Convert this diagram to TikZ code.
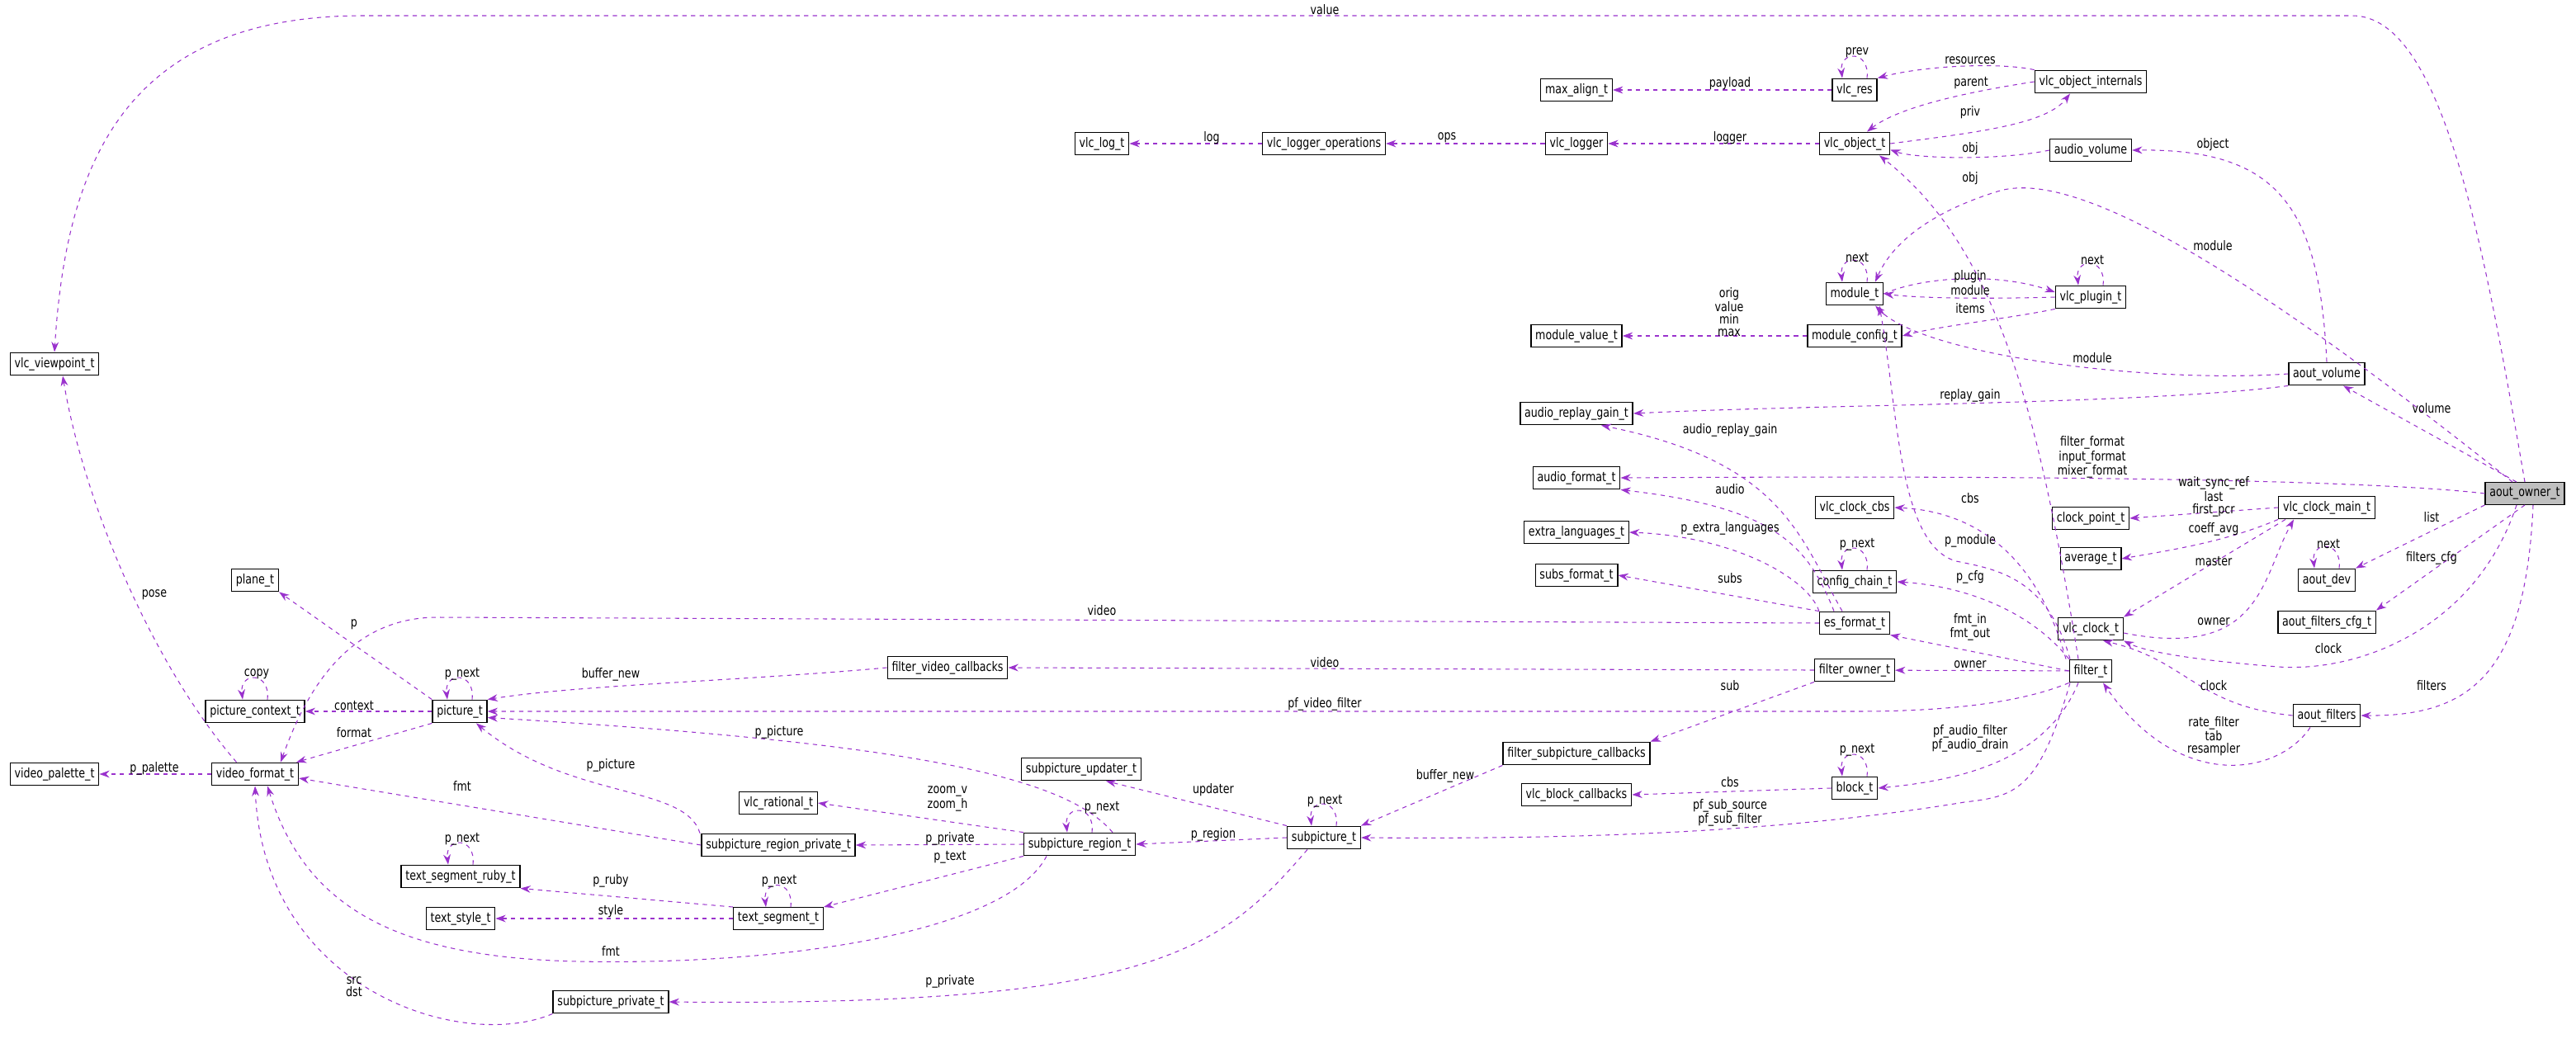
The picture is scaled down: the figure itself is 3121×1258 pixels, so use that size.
\documentclass[tikz,border=0pt]{standalone}
\usepackage{fontspec}
\setmainfont[FakeStretch=0.8]{DejaVu Sans}
\usetikzlibrary{arrows.meta}
\definecolor{deporchid}{RGB}{154,50,205}
\tikzset{
  cls/.style={draw=black, fill=white, line width=0.8pt, inner xsep=3pt, minimum height=0.52cm, font=\fontsize{9}{9}\selectfont},
  root/.style={cls, fill=black!25},
  dep/.style={draw=deporchid, dashed, semithick, -{Stealth[length=7pt,width=5pt]}},
  lbl/.style={font=\fontsize{9}{8.5}\selectfont, align=center, inner sep=0pt},
}
\newcommand\selfloop[1]{\draw[dep] ([xshift=0.3cm]#1.north) .. controls +(4,-34) and +(-4,-34) .. ([xshift=-0.3cm]#1.north);}
\begin{document}
\begin{tikzpicture}[x={(0.02cm,0)}, y={(0,-0.02cm)}]
    \useasboundingbox (0,0) rectangle (3121,1258);

    % Classes
    \node[root] (owner) at (3059,598) {aout\_owner\_t};
    \node[cls] (vp) at (66,441) {vlc\_viewpoint\_t};
    \node[cls] (plane) at (309,703) {plane\_t};
    \node[cls] (pctx) at (309,862) {picture\_context\_t};
    \node[cls] (pic) at (557,862) {picture\_t};
    \node[cls] (fvc) at (1148,809) {filter\_video\_callbacks};
    \node[cls] (vpal) at (66,938) {video\_palette\_t};
    \node[cls] (vfmt) at (309,938) {video\_format\_t};
    \node[cls] (spupd) at (1310,932) {subpicture\_updater\_t};
    \node[cls] (vrat) at (943,973) {vlc\_rational\_t};
    \node[cls] (srpriv) at (943,1024) {subpicture\_region\_private\_t};
    \node[cls] (sreg) at (1308,1023) {subpicture\_region\_t};
    \node[cls] (tsruby) at (558,1062) {text\_segment\_ruby\_t};
    \node[cls] (tstyle) at (558,1113) {text\_style\_t};
    \node[cls] (tseg) at (943,1113) {text\_segment\_t};
    \node[cls] (sppriv) at (740,1214) {subpicture\_private\_t};
    \node[cls] (maxal) at (1910,109) {max\_align\_t};
    \node[cls] (vres) at (2247,109) {vlc\_res};
    \node[cls] (voint) at (2533,99) {vlc\_object\_internals};
    \node[cls] (vlog) at (1335,174) {vlc\_log\_t};
    \node[cls] (vlogops) at (1604,174) {vlc\_logger\_operations};
    \node[cls] (vlogger) at (1910,174) {vlc\_logger};
    \node[cls] (vobj) at (2247,174) {vlc\_object\_t};
    \node[cls] (audvol) at (2533,182) {audio\_volume};
    \node[cls] (mod) at (2247,356) {module\_t};
    \node[cls] (vplug) at (2533,360) {vlc\_plugin\_t};
    \node[cls] (modval) at (1910,407) {module\_value\_t};
    \node[cls] (modcfg) at (2247,407) {module\_config\_t};
    \node[cls] (avol) at (2819,453) {aout\_volume};
    \node[cls] (arg) at (1910,501) {audio\_replay\_gain\_t};
    \node[cls] (afmt) at (1910,579) {audio\_format\_t};
    \node[cls] (vccbs) at (2247,615) {vlc\_clock\_cbs};
    \node[cls] (cpt) at (2533,628) {clock\_point\_t};
    \node[cls] (cmain) at (2819,615) {vlc\_clock\_main\_t};
    \node[cls] (extl) at (1910,645) {extra\_languages\_t};
    \node[cls] (subsf) at (1910,697) {subs\_format\_t};
    \node[cls] (cchain) at (2247,705) {config\_chain\_t};
    \node[cls] (avg) at (2533,677) {average\_t};
    \node[cls] (adev) at (2819,703) {aout\_dev};
    \node[cls] (es) at (2247,755) {es\_format\_t};
    \node[cls] (vclock) at (2533,762) {vlc\_clock\_t};
    \node[cls] (afcfg) at (2819,754) {aout\_filters\_cfg\_t};
    \node[cls] (fowner) at (2247,812) {filter\_owner\_t};
    \node[cls] (filt) at (2533,813) {filter\_t};
    \node[cls] (afilt) at (2819,867) {aout\_filters};
    \node[cls] (fspc) at (1910,913) {filter\_subpicture\_callbacks};
    \node[cls] (vbcb) at (1910,963) {vlc\_block\_callbacks};
    \node[cls] (block) at (2247,955) {block\_t};
    \node[cls] (subpic) at (1604,1015) {subpicture\_t};

    % Top: object and logger
    \draw[dep] (owner.north) .. controls (3010,300) and (2960,19) .. (2850,19) -- (440,19) .. controls (150,19) and (80,200) .. (vp.north);
    \draw[dep] (vres) -- (maxal);
    \selfloop{vres}
    \draw[dep] (voint.north west) .. controls (2420,75) and (2330,80) .. (vres.north east);
    \draw[dep] (voint.west) .. controls (2380,112) and (2300,130) .. ([xshift=0.3cm]vobj.north);
    \draw[dep] (vobj.east) .. controls (2400,160) and (2480,150) .. ([xshift=-0.5cm]voint.south);
    \draw[dep] (vlogops) -- (vlog);
    \draw[dep] (vlogger) -- (vlogops);
    \draw[dep] (vobj) -- (vlogger);
    \draw[dep] (audvol.west) .. controls (2420,195) and (2320,192) .. ([yshift=-0.15cm]vobj.east);
    \draw[dep] ([xshift=-0.3cm]filt.north) .. controls (2470,500) and (2420,300) .. ([xshift=0.6cm]vobj.south);
    \draw[dep] (avol.north) .. controls (2810,250) and (2760,180) .. (audvol.east);

    % Modules
    \draw[dep] ([xshift=-0.3cm]owner.north) .. controls (2750,350) and (2520,200) .. (2420,232) .. controls (2330,260) and (2290,300) .. ([xshift=0.5cm]mod.north);
    \selfloop{mod}
    \selfloop{vplug}
    \draw[dep] (mod.east) .. controls (2330,335) and (2420,330) .. ([yshift=0.12cm]vplug.west);
    \draw[dep] (vplug.west) .. controls (2420,362) and (2330,362) .. (mod.east);
    \draw[dep] (vplug.south west) .. controls (2440,385) and (2350,395) .. (modcfg.east);
    \draw[dep] (modcfg) -- (modval);
    \draw[dep] (avol.west) .. controls (2600,465) and (2330,430) .. ([xshift=0.5cm]mod.south);
    \draw[dep] ([xshift=-0.5cm]filt.north) .. controls (2480,700) and (2420,690) .. (2370,680) .. controls (2300,660) and (2300,500) .. ([xshift=0.6cm]mod.south);
    \draw[dep] (avol.south west) .. controls (2600,490) and (2200,490) .. (arg.east);
    \draw[dep] ([xshift=-0.2cm]owner.north) -- ([xshift=0.4cm]avol.south);

    % Audio and clocks
    \draw[dep] ([xshift=-0.3cm]es.north) .. controls (2180,650) and (2160,560) .. ([xshift=0.6cm]arg.south);
    \draw[dep] (owner.west) .. controls (2900,585) and (2600,575) .. (afmt.east);
    \draw[dep] ([xshift=-0.5cm]es.north) .. controls (2190,660) and (2150,615) .. (afmt.south east);
    \draw[dep] ([xshift=-0.6cm]filt.north) .. controls (2470,680) and (2400,620) .. (vccbs.east);
    \draw[dep] (cmain.west) -- (cpt.east);
    \draw[dep] (cmain.south west) .. controls (2700,655) and (2640,665) .. (avg.east);
    \draw[dep] (owner.south west) -- (adev.north east);
    \selfloop{adev}
    \draw[dep] (owner.south) -- (afcfg.north east);
    \draw[dep] ([xshift=-0.2cm]owner.south) .. controls (3000,760) and (2860,815) .. (2760,808) .. controls (2660,800) and (2600,790) .. (vclock.south east);
    \draw[dep] ([xshift=0.2cm]owner.south) .. controls (3060,820) and (2990,868) .. (afilt.east);
    \draw[dep] ([xshift=-1cm]cmain.south) -- (vclock.north east);
    \draw[dep] ([yshift=-0.1cm]vclock.east) .. controls (2740,800) and (2740,700) .. ([xshift=-0.8cm]cmain.south);
    \draw[dep] (afilt.west) .. controls (2660,855) and (2650,800) .. ([xshift=0.3cm]vclock.south);
    \draw[dep] ([xshift=-0.4cm]afilt.south) .. controls (2760,940) and (2640,960) .. ([xshift=0.3cm]filt.south);

    % Formats and filters
    \draw[dep] (es.north west) .. controls (2190,700) and (2100,650) .. (extl.east);
    \draw[dep] (es.north west) -- (subsf.east);
    \selfloop{cchain}
    \draw[dep] (filt.north west) .. controls (2460,740) and (2380,710) .. (cchain.east);
    \draw[dep] (filt.west) -- (es.south east);
    \draw[dep] (es.west) -- (530,748) .. controls (420,748) and (370,840) .. ([xshift=0.62cm]vfmt.north);
    \draw[dep] (filt) -- (fowner);
    \draw[dep] (fowner.west) -- (fvc.east);
    \draw[dep] (fowner.south west) -- (fspc.north east);
    \draw[dep] (filt.south west) .. controls (2440,855) and (2340,862) .. (2250,862) -- (pic.east);
    \draw[dep] ([xshift=-0.3cm]filt.south) .. controls (2480,920) and (2380,945) .. (block.east);
    \selfloop{block}
    \draw[dep] (block.west) -- (vbcb.east);
    \draw[dep] ([xshift=-0.5cm]filt.south) .. controls (2470,960) and (2440,965) .. (2380,972) .. controls (2150,1010) and (1900,1017) .. (subpic.east);

    % Subpictures
    \draw[dep] (fspc.south west) -- (subpic.north east);
    \draw[dep] (subpic.north west) -- ([xshift=0.6cm]spupd.south);
    \selfloop{subpic}
    \draw[dep] (subpic.west) -- (sreg.east);
    \draw[dep] ([xshift=-0.4cm]subpic.south) .. controls (1480,1150) and (1400,1220) .. (sppriv.east);
    \selfloop{sreg}
    \draw[dep] (sreg.north west) -- (vrat.east);
    \draw[dep] (sreg.west) -- (srpriv.east);
    \draw[dep] (sreg.south west) -- (tseg.north east);
    \draw[dep] ([xshift=0.8cm]sreg.north) .. controls (1290,940) and (1100,900) .. ([yshift=-0.15cm]pic.east);
    \draw[dep] ([xshift=-0.8cm]sreg.south) .. controls (1220,1130) and (950,1170) .. (700,1165) .. controls (480,1160) and (370,1100) .. ([xshift=0.3cm]vfmt.south);
    \draw[dep] ([xshift=-1.9cm]srpriv.north) .. controls (830,950) and (690,970) .. ([xshift=0.4cm]pic.south);
    \draw[dep] (srpriv.west) -- ([yshift=-0.1cm]vfmt.east);
    \draw[dep] (tseg.north west) -- (tsruby.south east);
    \selfloop{tseg}
    \selfloop{tsruby}
    \draw[dep] (tseg) -- (tstyle);
    \draw[dep] (sppriv.south west) .. controls (560,1275) and (320,1200) .. (vfmt.south);

    % Pictures and video formats
    \draw[dep] (fvc.west) .. controls (900,825) and (700,830) .. (pic.north east);
    \draw[dep] (pic) -- (pctx);
    \selfloop{pctx}
    \draw[dep] (pic.north west) -- (plane.south east);
    \selfloop{pic}
    \draw[dep] (pic.south west) -- ([xshift=1cm]vfmt.north);
    \draw[dep] (vfmt) -- (vpal);
    \draw[dep] ([xshift=-0.45cm]vfmt.north) .. controls (180,800) and (100,600) .. ([xshift=0.2cm]vp.south);

    % Labels
    \foreach \x/\y/\t [count=\i] in {
        1605/12/value, 2250/64/prev, 2387/73/resources, 2096/101/payload,
        2388/101/parent, 2387/136/priv, 1468/167/log, 1753/167/ops,
        2096/167/logger, 2387/180/obj, 2681/175/object, 2387/216/obj,
        2681/298/module, 2250/312/next, 2535/315/next, 2387/335/plugin,
        2387/352/module, 2387/374/items, 2095/378/{orig\\value\\min\\max},
        2535/434/module, 2387/479/replay\_gain, 2946/495/volume,
        2096/521/audio\_replay\_gain, 2535/554/{filter\_format\\input\_format\\mixer\_format},
        2096/593/audio, 2682/602/{wait\_sync\_ref\\last\\first\_pcr}, 2387/604/cbs,
        2946/627/list, 2682/641/coeff\_avg, 2096/640/p\_extra\_languages,
        2387/655/p\_module, 2250/660/p\_next, 2682/680/master, 2821/659/next,
        2946/676/filters\_cfg, 2096/701/subs, 2387/699/p\_cfg,
        2387/760/{fmt\_in\\fmt\_out}, 2682/753/owner, 2821/786/clock,
        1335/740/video, 1605/803/video, 2387/805/owner, 2096/831/sub,
        2682/831/clock, 2946/831/filters, 1605/853/pf\_video\_filter,
        2682/892/{rate\_filter\\tab\\resampler}, 2387/895/{pf\_audio\_filter\\pf\_audio\_drain},
        2250/909/p\_next, 1751/940/buffer\_new, 2096/948/cbs, 1470/957/updater,
        1605/971/p\_next, 2096/985/{pf\_sub\_source\\pf\_sub\_filter}, 1470/1011/p\_region,
        1335/979/p\_next, 187/721/pose, 429/757/p, 311/817/copy, 560/817/p\_next,
        740/817/buffer\_new, 429/855/context, 429/888/format, 944/887/p\_picture,
        187/931/p\_palette, 740/927/p\_picture, 560/952/fmt, 1148/968/{zoom\_v\\zoom\_h},
        560/1017/p\_next, 1151/1016/p\_private, 1151/1039/p\_text, 740/1067/p\_ruby,
        944/1068/p\_next, 740/1104/style, 740/1152/fmt, 429/1196/{src\\dst},
        1151/1189/p\_private}
        \node[lbl] (lab\i) at (\x,\y) {\t};
\end{tikzpicture}
\end{document}
